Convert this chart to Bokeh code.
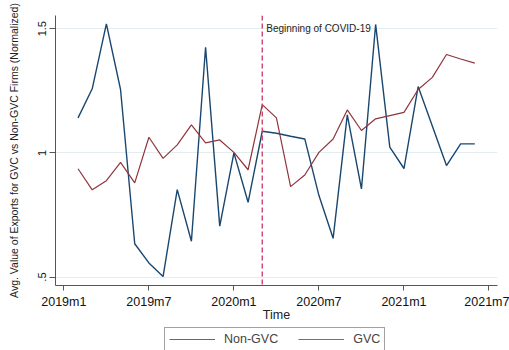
from bokeh.plotting import figure
from bokeh.layouts import column
from bokeh.models import Range1d, FixedTicker, Span, Label, Legend, LegendItem
from bokeh.embed import file_html
from bokeh.resources import INLINE

# ---- data ----
months = ["2019m2", "2019m3", "2019m4", "2019m5", "2019m6", "2019m7", "2019m8", "2019m9",
          "2019m10", "2019m11", "2019m12", "2020m1", "2020m2", "2020m3", "2020m4", "2020m5",
          "2020m6", "2020m7", "2020m8", "2020m9", "2020m10", "2020m11", "2020m12", "2021m1",
          "2021m2", "2021m3", "2021m4", "2021m5", "2021m6"]
non_gvc = [1.141, 1.258, 1.519, 1.255, 0.634, 0.557, 0.502, 0.852, 0.644, 1.425, 0.705,
           1.000, 0.801, 1.087, 1.079, 1.067, 1.056, 0.828, 0.656, 1.153, 0.855, 1.517,
           1.023, 0.937, 1.267, 1.108, 0.949, 1.036, 1.036]
gvc = [0.936, 0.851, 0.888, 0.962, 0.879, 1.063, 0.978, 1.032, 1.113, 1.040, 1.052,
       1.002, 0.932, 1.194, 1.141, 0.864, 0.911, 1.002, 1.056, 1.173, 1.090, 1.137,
       1.150, 1.163, 1.255, 1.304, 1.396, 1.378, 1.361]
x_tick_labels = ["2019m1", "2019m7", "2020m1", "2020m7", "2021m1", "2021m7"]
y_ticks = [0.5, 1.0, 1.5]
y_tick_labels = [".5", "1", "1.5"]
series_names = ["Non-GVC", "GVC"]
covid_month = "2020m3"
covid_text = "Beginning of COVID-19"


def month_index(s):
    y, m = s.split("m")
    return (int(y) - 2019) * 12 + int(m) - 1


x = [month_index(s) for s in months]
x_ticks = [month_index(s) for s in x_tick_labels]

NAVY = "#1a476f"
MAROON = "#90353b"
FONT = "Liberation Sans"

p = figure(width=509, height=324, output_backend="svg", toolbar_location=None,
           x_range=Range1d(-0.59, 30.6), y_range=Range1d(0.466, 1.553),
           min_border_left=55, min_border_right=12, min_border_top=15, min_border_bottom=39)
p.outline_line_color = None
p.background_fill_color = "white"
p.border_fill_color = "white"

p.line(x, non_gvc, line_color=NAVY, line_width=1.4)
p.line(x, gvc, line_color=MAROON, line_width=1.2)

# covid line
p.add_layout(Span(location=month_index(covid_month), dimension="height",
                  line_color="#d3426c", line_width=1.4, line_dash="5 3"))
p.add_layout(Label(x=month_index(covid_month), y=1.5, text=covid_text, x_offset=4,
                   text_font=FONT, text_font_size="10px", text_color="#222222",
                   text_baseline="middle"))

# axes
p.xgrid.visible = False
p.ygrid.ticker = FixedTicker(ticks=y_ticks)
p.ygrid.grid_line_color = "#e3ecee"
p.ygrid.grid_line_width = 1

p.xaxis.ticker = FixedTicker(ticks=x_ticks)
p.xaxis.major_label_overrides = {t: l for t, l in zip(x_ticks, x_tick_labels)}
p.xaxis.axis_label = "Time"
p.yaxis.ticker = FixedTicker(ticks=y_ticks)
p.yaxis.major_label_overrides = {t: l for t, l in zip(y_ticks, y_tick_labels)}
p.yaxis.axis_label = "Avg. Value of Exports for GVC vs Non-GVC Firms (Normalized)"
p.yaxis.major_label_orientation = "vertical"

for ax in (p.xaxis[0], p.yaxis[0]):
    ax.axis_line_color = "#555555"
    ax.major_tick_line_color = "#555555"
    ax.major_tick_in = 0
    ax.minor_tick_line_color = None
    ax.major_label_text_font = FONT
    ax.axis_label_text_font = FONT
    ax.axis_label_text_font_style = "normal"
    ax.major_label_text_color = "#111111"
    ax.axis_label_text_color = "#222222"

p.xaxis.major_tick_out = 5
p.xaxis.major_label_text_font_size = "12.5px"
p.xaxis.major_label_standoff = 4
p.xaxis.axis_label_text_font_size = "12.5px"
p.xaxis.axis_label_standoff = -4

p.yaxis.major_tick_out = 6
p.yaxis.major_label_text_font_size = "11px"
p.yaxis.major_label_standoff = 3
p.yaxis.axis_label_text_font_size = "10.5px"
p.yaxis.axis_label_standoff = 16

# ---- legend strip below (series drawn off-range; only the legend shows) ----
lg = figure(width=509, height=26, output_backend="svg", toolbar_location=None,
            x_range=Range1d(1000, 1001), y_range=Range1d(1000, 1001),
            min_border_left=0, min_border_right=0, min_border_top=0, min_border_bottom=0)
lg.axis.visible = False
lg.grid.visible = False
lg.outline_line_color = None
lg.background_fill_color = "white"
lg.border_fill_color = "white"
d1 = lg.line(x, non_gvc, line_color="#4a6f93", line_width=1.2)
d2 = lg.line(x, gvc, line_color="#a9595e", line_width=1.2)
legend = Legend(items=[LegendItem(label=series_names[0], renderers=[d1]),
                       LegendItem(label=series_names[1], renderers=[d2])],
                orientation="horizontal", location=(109, -1),
                label_text_font=FONT, label_text_font_size="12.5px",
                glyph_width=46, glyph_height=14, label_height=14, label_standoff=9,
                spacing=20, padding=4, margin=0,
                border_line_color="#444444", border_line_width=1,
                background_fill_color="white", background_fill_alpha=1)
lg.add_layout(legend, "center")

layout = column(p, lg, spacing=0)
open("out.html", "w").write(file_html(layout, INLINE))
